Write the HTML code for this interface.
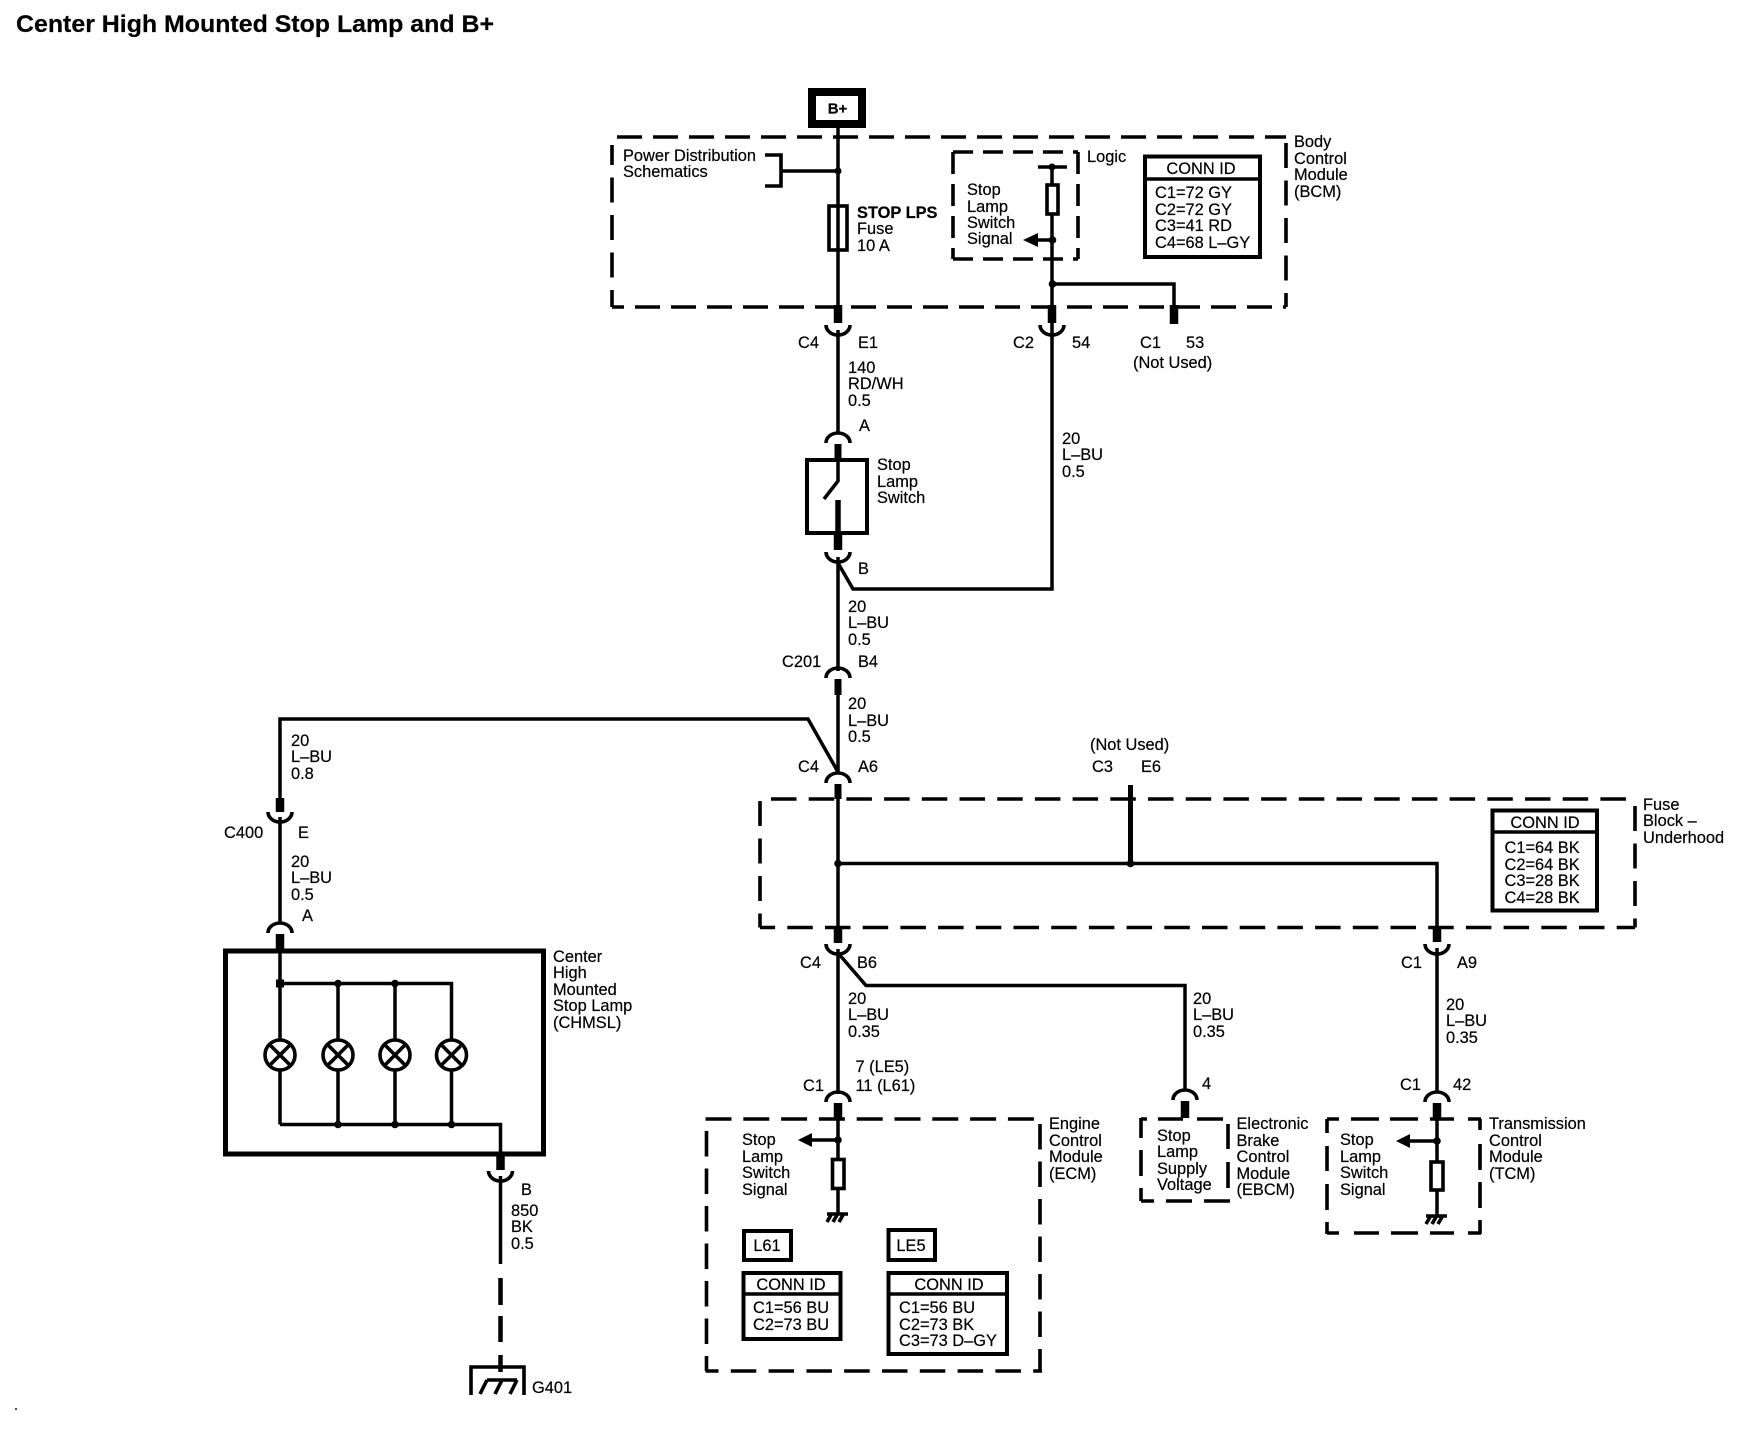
<!DOCTYPE html>
<html><head><meta charset="utf-8"><style>
html,body{margin:0;padding:0;background:#fff}
svg{display:block}
text{font-family:"Liberation Sans",Arial,sans-serif;font-size:16.4px;fill:#000;stroke:#000;stroke-width:.2}
.w{fill:none;stroke:#000;stroke-width:3.5}
.t{fill:none;stroke:#000;stroke-width:8.5}
.b{fill:none;stroke:#000;stroke-width:3.6}
.c{fill:none;stroke:#000;stroke-width:3.6}
.box{fill:none;stroke:#000;stroke-width:4}
.m{text-anchor:middle}
</style></head><body>
<svg width="1742" height="1440" viewBox="0 0 1742 1440" xmlns="http://www.w3.org/2000/svg">
<text x="16" y="32" style="font-size:24px;font-weight:bold" textLength="478" lengthAdjust="spacingAndGlyphs">Center High Mounted Stop Lamp and B+</text>
<rect x="15" y="1408" width="2" height="2" fill="#555"/>

<!-- dashed boxes -->
<g class="b">
<path class="b" d="M617 137H1286" stroke-dasharray="25 11"/>
<path class="b" d="M612 307H1286" stroke-dasharray="25 11" stroke-dashoffset="13"/>
<path class="b" d="M612 145V307" stroke-dasharray="25 12.5" stroke-dashoffset="5"/>
<path class="b" d="M1286 143V307" stroke-dasharray="25 12.5"/>

<path class="b" d="M953 152H1078" stroke-dasharray="20 10"/>
<path class="b" d="M953 259H1078" stroke-dasharray="20 10"/>
<path class="b" d="M953 152V259" stroke-dasharray="22 10"/>
<path class="b" d="M1078 152V259" stroke-dasharray="22 10"/>

<path class="b" d="M771 799H1635" stroke-dasharray="25.5 12.2"/>
<path class="b" d="M760 927.5H1635" stroke-dasharray="25.5 12.2" stroke-dashoffset="10.4"/>
<path class="b" d="M760 801V927.5" stroke-dasharray="25 12.5"/>
<path class="b" d="M1635 806V927.5" stroke-dasharray="25 12.5"/>

<path class="b" d="M705.5 1119H1035" stroke-dasharray="26 11.8"/>
<path class="b" d="M705.5 1371H1042" stroke-dasharray="25.5 12.3" stroke-dashoffset="12.5"/>
<path class="b" d="M706.5 1131V1371" stroke-dasharray="25.5 12"/>
<path class="b" d="M1040 1124V1371" stroke-dasharray="25.5 12"/>

<path class="b" d="M1141 1119H1147M1158 1119H1183M1197 1119H1223M1141 1118V1138M1141 1150V1176M1141 1188V1201M1141 1201H1154M1166 1201H1192M1204 1201H1230M1228 1124V1149M1228 1162V1188"/>
<path class="b" d="M1327 1119H1339M1351 1119H1379M1390 1119H1418M1430 1119H1454M1468 1119H1481M1327 1119V1133M1327 1146V1171M1327 1184V1210M1327 1222V1234M1480 1119V1130M1480 1144V1170M1480 1182V1208M1480 1220V1234M1327 1233H1339M1354 1233H1379M1391 1233H1418M1430 1233H1454M1468 1233H1481"/>
</g>

<!-- B+ -->
<rect x="812" y="92" width="50" height="32" fill="#fff" stroke="#000" stroke-width="8"/>
<text x="837.5" y="113.5" class="m" style="font-weight:bold;font-size:15px">B+</text>

<!-- main wire top -->
<path class="w" d="M838 128V307"/>
<path class="b" d="M765 155H781V186H765M781 171H838"/>
<circle cx="838" cy="171" r="3.5"/>
<rect x="829" y="206" width="18" height="44" fill="#fff" stroke="#000" stroke-width="3.6"/>
<path class="w" d="M838 206V250"/>
<path class="t" d="M838 305V323"/>
<path class="c" d="M826 325A12 10 0 0 0 850 325"/>
<path class="w" d="M838 330V434"/>
<path class="c" d="M826 443A12 10 0 0 1 850 443"/>
<path class="t" d="M838 444V459" style="stroke-width:7"/>
<!-- switch -->
<rect class="box" x="807" y="460" width="60" height="73"/>
<path class="w" d="M838 458V481L824 499"/>
<path class="w" d="M838 500V535" style="stroke-width:5.5"/>
<path class="t" d="M838 533V550"/>
<path class="c" d="M826 552A12 10 0 0 0 850 552"/>
<path class="w" d="M838 557V671"/>
<path class="w" d="M838 563L853 589H1052V310"/>
<path class="c" d="M826 678A12 10 0 0 1 850 678"/>
<path class="t" d="M838 679V695" style="stroke-width:7"/>
<path class="w" d="M838 693V774"/>
<path class="w" d="M838 772L808 719H280V800"/>
<path class="c" d="M826 783A12 10 0 0 1 850 783"/>
<path class="t" d="M838 784V799" style="stroke-width:7"/>
<path class="w" d="M838 797V928"/>
<path class="t" d="M838 926V943"/>
<path class="c" d="M826 944A12 10 0 0 0 850 944"/>
<path class="w" d="M838 949V1094"/>
<path class="w" d="M838 953L866 985.5H1185V1091"/>
<path class="w" d="M838 863.5H1437V928"/>
<circle cx="838" cy="863.5" r="3.8"/><circle cx="1130.5" cy="863.5" r="3.8"/>
<path class="w" d="M1130.5 785V863" style="stroke-width:5"/>

<!-- BCM logic -->
<path class="w" d="M1052 166V307"/>
<path class="b" d="M1038 167H1067"/>
<circle cx="1052" cy="167" r="3.5"/>
<rect x="1047" y="185" width="11" height="29" fill="#fff" stroke="#000" stroke-width="3.6"/>
<circle cx="1052.5" cy="240" r="3.8"/>
<path class="w" d="M1052 240H1035"/>
<path d="M1023 240L1038 233V247Z"/>
<circle cx="1052.5" cy="284" r="3.8"/>
<path class="w" d="M1052 284H1174V307"/>
<path class="t" d="M1052 305V323"/>
<path class="t" d="M1174 305V324"/>
<path class="c" d="M1040 325A12 10 0 0 0 1064 325"/>
<rect class="box" x="1145" y="156.500" width="115" height="100.500"/>
<path class="b" d="M1145 179H1260"/>

<!-- Fuse block conn -->
<rect class="box" x="1492.500" y="810.500" width="104.500" height="100"/>
<path class="b" d="M1492 832H1597"/>
<path class="c" d="M1425 944A12 10 0 0 0 1449 944"/>
<path class="t" d="M1437 926V942"/>
<path class="w" d="M1437 948V1093"/>

<!-- C400 + CHMSL -->
<path class="t" d="M280 798V812"/>
<path class="c" d="M268 812A12 10 0 0 0 292 812"/>
<path class="w" d="M280 817V924"/>
<path class="c" d="M268 933A12 10 0 0 1 292 933"/>
<path class="t" d="M280 934V951"/>
<rect x="225.500" y="951" width="318" height="203" fill="none" stroke="#000" stroke-width="5"/>
<path class="w" d="M280 983.5H451.5V1040M280 950V1040M338 983.5V1040M395 983.5V1040"/>
<path class="w" d="M280 1070V1124.5M338 1070V1124.5M395 1070V1124.5M451.5 1070V1124.5"/>
<path class="w" d="M280 1124.5H500.5V1157"/>
<circle cx="338" cy="983.5" r="3.8"/><circle cx="395" cy="983.5" r="3.8"/>
<rect x="276" y="979.5" width="8" height="8"/>
<circle cx="338" cy="1124.5" r="3.8"/><circle cx="395" cy="1124.5" r="3.8"/><circle cx="451.5" cy="1124.5" r="3.8"/>
<g fill="#fff" stroke="#000" stroke-width="3.6">
<circle cx="280" cy="1055" r="15"/><circle cx="338" cy="1055" r="15"/><circle cx="395" cy="1055" r="15"/><circle cx="451.5" cy="1055" r="15"/>
</g>
<path class="b" d="M270 1045L290 1065M290 1045L270 1065M328 1045L348 1065M348 1045L328 1065M385 1045L405 1065M405 1045L385 1065M441.5 1045L461.5 1065M461.5 1045L441.5 1065"/>
<path class="t" d="M500.5 1155V1170"/>
<path class="c" d="M488.500 1171A12 10 0 0 0 512.500 1171"/>
<path class="w" d="M500.500 1176V1264"/>
<path class="w" d="M500.500 1278V1305M500.500 1316V1342M500.500 1355V1372" style="stroke-width:4.5"/>
<path class="b" d="M471 1395V1367H524V1395"/>
<path class="b" d="M487 1380L480 1394M502 1380L495 1394M517 1380L510 1394M487 1380H517"/>

<!-- ECM -->
<path class="c" d="M826 1102A12 10 0 0 1 850 1102"/>
<path class="t" d="M838 1103V1120"/>
<path class="w" d="M838 1118V1213"/>
<circle cx="838" cy="1140" r="3.8"/>
<path class="w" d="M838 1140H810"/>
<path d="M798 1140L812 1133V1147Z"/>
<rect x="832.500" y="1159.500" width="11.500" height="29" fill="#fff" stroke="#000" stroke-width="3.6"/>
<path class="b" d="M827 1214H848M831 1215L827 1222M837 1215L833 1222M843 1215L839 1222"/>
<rect class="box" x="744" y="1231" width="47" height="29"/>
<rect class="box" x="888.5" y="1230" width="46.500" height="30"/>
<rect class="box" x="743.500" y="1273" width="97" height="66"/>
<path class="b" d="M744 1294H840"/>
<rect class="box" x="888.500" y="1273" width="118.500" height="81"/>
<path class="b" d="M888 1294H1007"/>

<!-- EBCM -->
<path class="c" d="M1173 1100A12 10 0 0 1 1197 1100"/>
<path class="t" d="M1185 1101V1118"/>

<!-- TCM -->
<path class="c" d="M1425 1102A12 10 0 0 1 1449 1102"/>
<path class="t" d="M1437 1103V1120"/>
<path class="w" d="M1437 1118V1215"/>
<circle cx="1437" cy="1141" r="3.8"/>
<path class="w" d="M1437 1141H1408"/>
<path d="M1396 1141L1410 1134V1148Z"/>
<rect x="1431" y="1162" width="12" height="28" fill="#fff" stroke="#000" stroke-width="3.6"/>
<path class="b" d="M1426 1216H1447M1430 1217L1426 1224M1436 1217L1432 1224M1442 1217L1438 1224"/>

<!-- labels -->
<text x="623" y="161">Power Distribution</text><text x="623" y="177">Schematics</text>
<text x="857" y="218" style="font-weight:bold">STOP LPS</text><text x="857" y="234">Fuse</text><text x="857" y="251">10 A</text>
<text x="967" y="195">Stop</text><text x="967" y="212">Lamp</text><text x="967" y="228">Switch</text><text x="967" y="244">Signal</text>
<text x="1087" y="162">Logic</text>
<text x="1201" y="174" class="m">CONN ID</text>
<text x="1155" y="198">C1=72 GY</text><text x="1155" y="215">C2=72 GY</text><text x="1155" y="231">C3=41 RD</text><text x="1155" y="248">C4=68 L–GY</text>
<text x="1294" y="147">Body</text><text x="1294" y="164">Control</text><text x="1294" y="180">Module</text><text x="1294" y="197">(BCM)</text>
<text x="798" y="348">C4</text><text x="858" y="348">E1</text>
<text x="1013" y="348">C2</text><text x="1072" y="348">54</text>
<text x="1140" y="348">C1</text><text x="1186" y="348">53</text><text x="1133" y="368">(Not Used)</text>
<text x="848" y="373">140</text><text x="848" y="389">RD/WH</text><text x="848" y="406">0.5</text>
<text x="859" y="431">A</text>
<text x="877" y="470">Stop</text><text x="877" y="487">Lamp</text><text x="877" y="503">Switch</text>
<text x="858" y="574">B</text>
<text x="1062" y="444">20</text><text x="1062" y="460">L–BU</text><text x="1062" y="477">0.5</text>
<text x="848" y="612">20</text><text x="848" y="628">L–BU</text><text x="848" y="645">0.5</text>
<text x="782" y="667">C201</text><text x="858" y="667">B4</text>
<text x="848" y="709">20</text><text x="848" y="726">L–BU</text><text x="848" y="742">0.5</text>
<text x="798" y="772">C4</text><text x="858" y="772">A6</text>
<text x="1090" y="750">(Not Used)</text><text x="1092" y="772">C3</text><text x="1141" y="772">E6</text>
<text x="1545" y="828" class="m">CONN ID</text>
<text x="1504.500" y="853">C1=64 BK</text><text x="1504.500" y="870">C2=64 BK</text><text x="1504.500" y="886">C3=28 BK</text><text x="1504.500" y="903">C4=28 BK</text>
<text x="1643" y="810">Fuse</text><text x="1643" y="826">Block –</text><text x="1643" y="843">Underhood</text>
<text x="291" y="746">20</text><text x="291" y="762">L–BU</text><text x="291" y="779">0.8</text>
<text x="224" y="838">C400</text><text x="298" y="838">E</text>
<text x="291" y="867">20</text><text x="291" y="883">L–BU</text><text x="291" y="900">0.5</text>
<text x="302" y="921">A</text>
<text x="553" y="962">Center</text><text x="553" y="978">High</text><text x="553" y="995">Mounted</text><text x="553" y="1011">Stop Lamp</text><text x="553" y="1028">(CHMSL)</text>
<text x="521" y="1195">B</text><text x="511" y="1216">850</text><text x="511" y="1232">BK</text><text x="511" y="1249">0.5</text>
<text x="532" y="1393">G401</text>
<text x="800" y="968">C4</text><text x="857" y="968">B6</text>
<text x="848" y="1004">20</text><text x="848" y="1020">L–BU</text><text x="848" y="1037">0.35</text>
<text x="1193" y="1004">20</text><text x="1193" y="1020">L–BU</text><text x="1193" y="1037">0.35</text>
<text x="1446" y="1010">20</text><text x="1446" y="1026">L–BU</text><text x="1446" y="1043">0.35</text>
<text x="1401" y="968">C1</text><text x="1457" y="968">A9</text>
<text x="803" y="1091">C1</text><text x="855.500" y="1072">7 (LE5)</text><text x="855.500" y="1091">11 (L61)</text>
<text x="1202" y="1089">4</text>
<text x="1400" y="1090">C1</text><text x="1453" y="1090">42</text>
<text x="742" y="1145">Stop</text><text x="742" y="1162">Lamp</text><text x="742" y="1178">Switch</text><text x="742" y="1195">Signal</text>
<text x="1049" y="1129">Engine</text><text x="1049" y="1146">Control</text><text x="1049" y="1162">Module</text><text x="1049" y="1179">(ECM)</text>
<text x="1157" y="1141">Stop</text><text x="1157" y="1157">Lamp</text><text x="1157" y="1174">Supply</text><text x="1157" y="1190">Voltage</text>
<text x="1236.500" y="1129">Electronic</text><text x="1236.500" y="1146">Brake</text><text x="1236.500" y="1162">Control</text><text x="1236.500" y="1179">Module</text><text x="1236.500" y="1195">(EBCM)</text>
<text x="1340" y="1145">Stop</text><text x="1340" y="1162">Lamp</text><text x="1340" y="1178">Switch</text><text x="1340" y="1195">Signal</text>
<text x="1489" y="1129">Transmission</text><text x="1489" y="1146">Control</text><text x="1489" y="1162">Module</text><text x="1489" y="1179">(TCM)</text>
<text x="767" y="1251" class="m">L61</text><text x="911" y="1251" class="m">LE5</text>
<text x="791" y="1290" class="m">CONN ID</text><text x="949" y="1290" class="m">CONN ID</text>
<text x="753" y="1313">C1=56 BU</text><text x="753" y="1330">C2=73 BU</text>
<text x="899" y="1313">C1=56 BU</text><text x="899" y="1330">C2=73 BK</text><text x="899" y="1346">C3=73 D–GY</text>
</svg>
</body></html>
